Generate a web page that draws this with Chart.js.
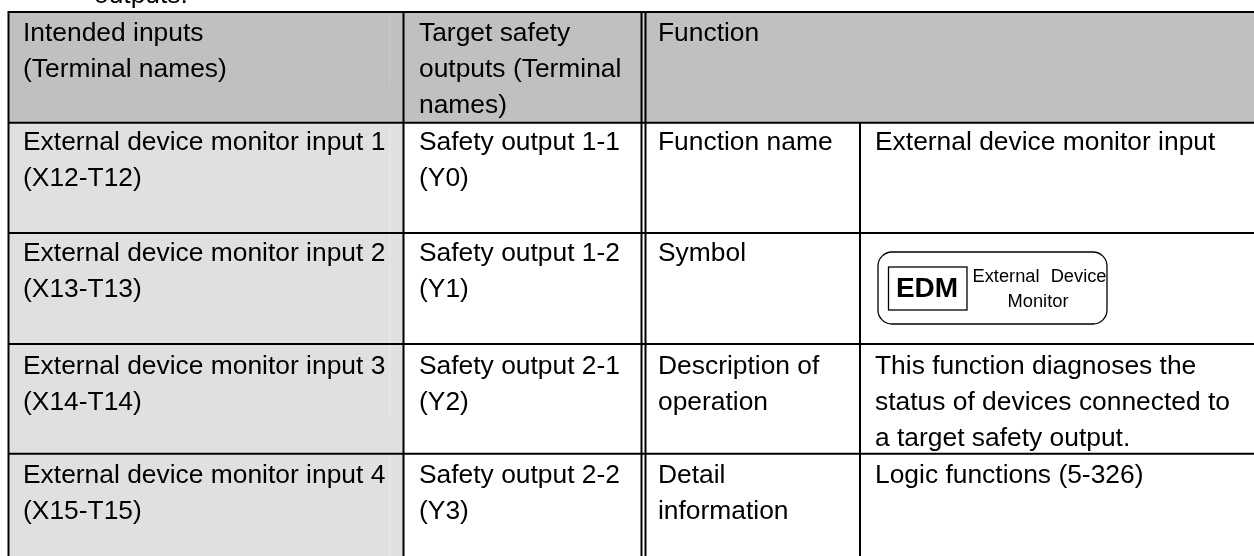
<!DOCTYPE html>
<html>
<head>
<meta charset="utf-8">
<title>External device monitor input</title>
<script src="https://cdn.jsdelivr.net/npm/chart.js@4"></script>
<style>
html, body { margin: 0; padding: 0; background: #fff; overflow: hidden; }
canvas { display: block; }
</style>
</head>
<body>
<canvas id="tabela" width="1254" height="556"></canvas>
<script>
// table text
const clippedLine = "outputs.";
const headerInputs = ["Intended inputs", "(Terminal names)"];
const headerOutputs = ["Target safety", "outputs (Terminal", "names)"];
const headerFunction = ["Function"];
const inputs = [
    ["External device monitor input 1", "(X12-T12)"],
    ["External device monitor input 2", "(X13-T13)"],
    ["External device monitor input 3", "(X14-T14)"],
    ["External device monitor input 4", "(X15-T15)"]
];
const outputs = [
    ["Safety output 1-1", "(Y0)"],
    ["Safety output 1-2", "(Y1)"],
    ["Safety output 2-1", "(Y2)"],
    ["Safety output 2-2", "(Y3)"]
];
const functionNames = [
    ["Function name"],
    ["Symbol"],
    ["Description of", "operation"],
    ["Detail", "information"]
];
const functionValues = [
    ["External device monitor input"],
    [],
    ["This function diagnoses the", "status of devices connected to", "a target safety output."],
    ["Logic functions (5-326)"]
];
const symbolCode = "EDM";
const symbolText = ["External Device", "Monitor"];

// layout of the table, in page pixels
const columnEdges = [8, 403.5, 643.5, 860, 1254];
const rowEdges = [12, 122.7, 233, 344, 453.7, 556];
const ruleX = [8.5, 403.5, 641.5, 645.5];
const textX = [23, 419, 658, 875];
const firstBaseline = [41, 150, 261, 374, 483];
const lineStep = 36;
const fonte = '"Liberation Sans", Arial, sans-serif';

function cells(col, from, to) {
    const out = [];
    for (let r = from; r < to; r++) {
        out.push({ x: (columnEdges[col] + columnEdges[col + 1]) / 2, y: [rowEdges[r], rowEdges[r + 1]] });
    }
    return out;
}

function coluna(col, from, to, cor) {
    return {
        data: cells(col, from, to),
        backgroundColor: cor,
        barThickness: columnEdges[col + 1] - columnEdges[col],
        inflateAmount: 0,
        grouped: false
    };
}

const tablePlugin = {
    id: "tablePlugin",
    afterDatasetsDraw(chart) {
        const ctx = chart.ctx;
        const x = chart.scales.x;
        const y = chart.scales.y;

        function linha(x1, y1, x2, y2, cor, largura) {
            ctx.beginPath();
            ctx.lineWidth = largura || 2;
            ctx.strokeStyle = cor || "#000";
            ctx.moveTo(x.getPixelForValue(x1), y.getPixelForValue(y1));
            ctx.lineTo(x.getPixelForValue(x2), y.getPixelForValue(y2));
            ctx.stroke();
        }
        function bloco(coluna, row, linhas) {
            ctx.font = "26.4px " + fonte;
            ctx.fillStyle = "#000";
            ctx.textAlign = "left";
            ctx.textBaseline = "alphabetic";
            linhas.forEach(function (t, i) {
                ctx.fillText(t, x.getPixelForValue(textX[coluna]), y.getPixelForValue(firstBaseline[row] + i * lineStep));
            });
        }

        ctx.save();
        // faint seams in the first column
        linha(389.5, 13, 389.5, 85, "#c9c9c9", 1);
        linha(389.5, 124, 389.5, 231, "#e8e8e8", 1);
        linha(389.5, 234, 389.5, 343, "#e8e8e8", 1);
        linha(389.5, 345, 389.5, 417, "#e8e8e8", 1);
        linha(389.5, 455, 389.5, 556, "#e8e8e8", 1);

        // rules
        rowEdges.slice(0, 5).forEach(function (e) { linha(columnEdges[0], e, 1254, e); });
        ruleX.forEach(function (e) { linha(e, 11, e, 556); });
        linha(columnEdges[3], rowEdges[1], columnEdges[3], 556);

        // text
        ctx.font = "26.4px " + fonte;
        ctx.fillStyle = "#000";
        ctx.fillText(clippedLine, x.getPixelForValue(94), y.getPixelForValue(3));
        bloco(0, 0, headerInputs);
        bloco(1, 0, headerOutputs);
        bloco(2, 0, headerFunction);
        for (let r = 0; r < 4; r++) {
            bloco(0, r + 1, inputs[r]);
            bloco(1, r + 1, outputs[r]);
            bloco(2, r + 1, functionNames[r]);
            bloco(3, r + 1, functionValues[r]);
        }

        // symbol
        ctx.lineWidth = 1.3;
        ctx.strokeStyle = "#000";
        ctx.beginPath();
        ctx.roundRect(x.getPixelForValue(878), y.getPixelForValue(252), 229, 72, 14);
        ctx.stroke();
        ctx.strokeRect(x.getPixelForValue(888.5), y.getPixelForValue(267), 78.5, 43);
        ctx.font = "bold 28px " + fonte;
        ctx.textAlign = "center";
        ctx.fillText(symbolCode, x.getPixelForValue(927), y.getPixelForValue(297));
        ctx.font = "18.3px " + fonte;
        ctx.wordSpacing = "6px";
        ctx.fillText(symbolText[0], x.getPixelForValue(1039.5), y.getPixelForValue(282));
        ctx.wordSpacing = "0px";
        ctx.fillText(symbolText[1], x.getPixelForValue(1038), y.getPixelForValue(307));
        ctx.restore();
    }
};

window.onload = function () {
    const ctx = document.getElementById("tabela").getContext("2d");
    new Chart(ctx, {
        type: "bar",
        data: {
            datasets: [
                coluna(0, 0, 1, "#c0c0c0"),
                coluna(1, 0, 1, "#c0c0c0"),
                coluna(2, 0, 1, "#c0c0c0"),
                coluna(3, 0, 1, "#c0c0c0"),
                coluna(0, 1, 5, "#e0e0e0")
            ]
        },
        options: {
            responsive: false,
            animation: false,
            layout: { padding: 0 },
            plugins: { legend: { display: false }, tooltip: { enabled: false } },
            scales: {
                x: { type: "linear", min: 0, max: 1254, display: false, offset: false },
                y: { type: "linear", min: 0, max: 556, reverse: true, display: false }
            }
        },
        plugins: [tablePlugin]
    });
};
</script>
</body>
</html>
